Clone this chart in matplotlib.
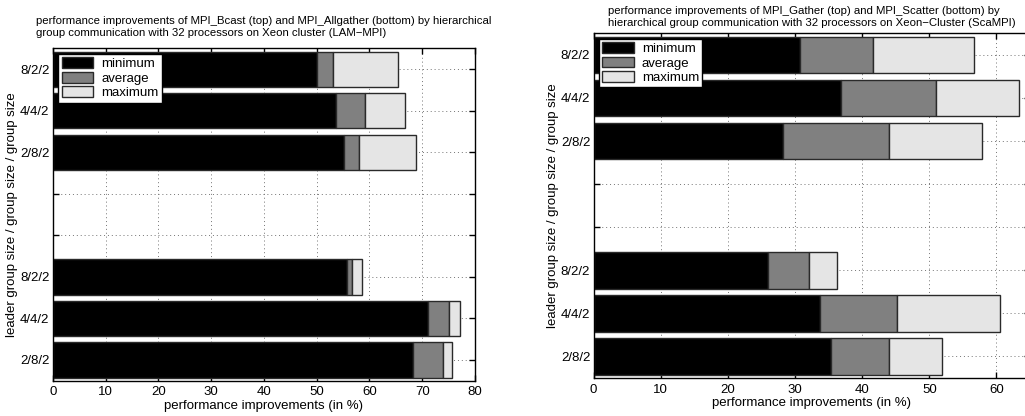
import matplotlib.pyplot as plt
import numpy as np

plt.rcParams["font.family"] = ["Liberation Sans", "DejaVu Sans"]

# row labels, bottom to top; the two empty rows separate the two groups
rows = ["2/8/2", "4/4/2", "8/2/2", "", "", "2/8/2", "4/4/2", "8/2/2"]

# LAM-MPI: MPI_Allgather (bottom rows 1-3), MPI_Bcast (top rows 6-8)
lam_min = [68.2, 71.0, 55.7, None, None, 55.2, 53.6, 50.0]
lam_avg = [74.0, 75.1, 56.6, None, None, 58.1, 59.1, 53.1]
lam_max = [75.6, 77.2, 58.6, None, None, 68.9, 66.7, 65.5]

# ScaMPI: MPI_Scatter (bottom rows 1-3), MPI_Gather (top rows 6-8)
sca_min = [35.3, 33.7, 26.0, None, None, 28.2, 36.9, 30.7]
sca_avg = [44.0, 45.2, 32.1, None, None, 44.0, 51.0, 41.6]
sca_max = [51.9, 60.6, 36.3, None, None, 57.9, 63.4, 56.6]

lam_title = ("performance improvements of MPI_Bcast (top) and MPI_Allgather (bottom) by hierarchical\n"
             "group communication with 32 processors on Xeon cluster (LAM\u2212MPI)")
sca_title = ("performance improvements of MPI_Gather (top) and MPI_Scatter (bottom) by\n"
             "hierarchical group communication with 32 processors on Xeon\u2212Cluster (ScaMPI)")

colors = ["#000000", "#808080", "#e5e5e5"]
names = ["minimum", "average", "maximum"]


def draw_panel(ax, mins, avgs, maxs, xmax, xticks, title, title_pad, label_x):
    pos = np.arange(1, len(rows) + 1)
    keep = [i for i, v in enumerate(mins) if v is not None]
    y = pos[keep]
    lo = np.array([mins[i] for i in keep])
    mid = np.array([avgs[i] for i in keep])
    hi = np.array([maxs[i] for i in keep])
    starts = [np.zeros_like(lo), lo, mid]
    widths = [lo, mid - lo, hi - mid]
    for s, w, c, n in zip(starts, widths, colors, names):
        ax.barh(y, w, left=s, height=0.85, color=c, edgecolor="#2a2a2a",
                linewidth=1.0, label=n, zorder=2)

    ax.set_xlim(0, xmax)
    ax.set_ylim(0.5, len(rows) + 0.5)
    ax.set_xticks(xticks)
    ax.set_yticks(pos)
    ax.set_yticklabels(rows)
    ax.grid(True, linestyle=(0, (1, 3)), color="0.45", linewidth=0.7, zorder=0)
    ax.set_axisbelow(True)
    ax.tick_params(direction="in", top=True, right=True, labelsize=9.5, length=4,
                   width=1.0)
    ax.tick_params(axis="x", pad=4)
    ax.tick_params(axis="y", pad=2.5)
    for sp in ax.spines.values():
        sp.set_linewidth(1.0)
    ax.set_xlabel("performance improvements (in %)", fontsize=9.5, labelpad=1)
    ax.set_ylabel("leader group size / group size / group size", fontsize=9.5)
    ax.yaxis.set_label_coords(label_x, 0.5)
    ax.set_title(title, fontsize=8.2, multialignment="left", pad=title_pad,
                 linespacing=1.2)
    leg = ax.legend(loc="upper left", fontsize=9.5, frameon=True, fancybox=False,
                    edgecolor="black", framealpha=1, borderpad=0.25,
                    handlelength=2.4, handleheight=0.9, labelspacing=0.12,
                    handletextpad=0.6, borderaxespad=0.4)
    leg.get_frame().set_linewidth(1.0)


fig = plt.figure(figsize=(10.25, 4.16), dpi=100)
ax1 = fig.add_axes([0.0517, 0.0849, 0.4117, 0.7986])
ax2 = fig.add_axes([0.5792, 0.0913, 0.4257, 0.8286])

draw_panel(ax1, lam_min, lam_avg, lam_max, 80, range(0, 81, 10), lam_title,
           9, -0.083)
draw_panel(ax2, sca_min, sca_avg, sca_max, 65, range(0, 61, 10), sca_title,
           5.2, -0.0795)

fig.savefig("out.png", dpi=100)
